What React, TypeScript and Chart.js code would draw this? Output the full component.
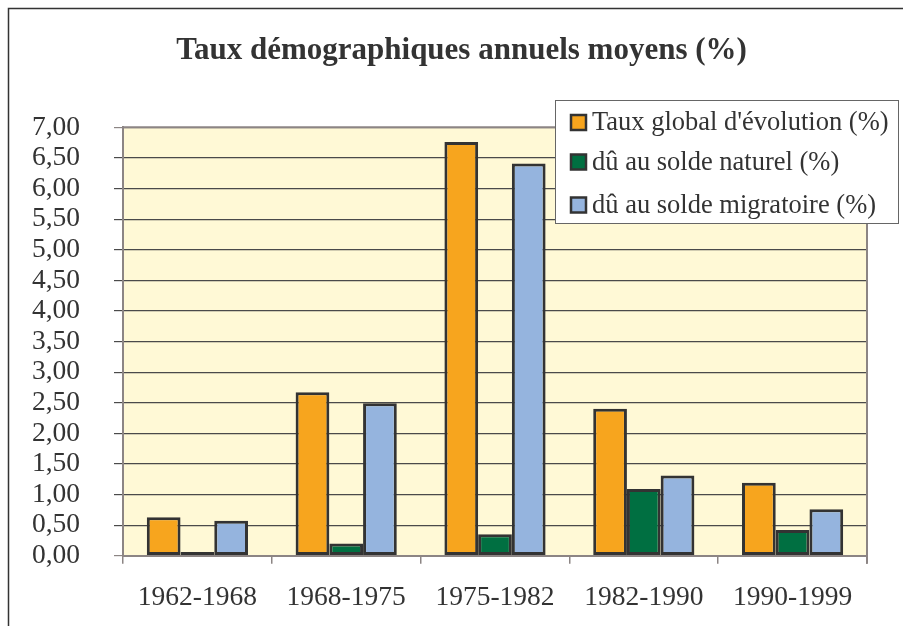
import React, { useEffect, useRef } from 'react';
import { Chart, registerables } from 'chart.js';

Chart.register(...registerables);

const categories = ['1962-1968', '1968-1975', '1975-1982', '1982-1990', '1990-1999'];
const tauxGlobal = [0.63, 2.67, 6.76, 2.40, 1.19];
const soldeNaturel = [0.06, 0.20, 0.35, 1.09, 0.42];
const soldeMigratoire = [0.57, 2.49, 6.41, 1.31, 0.76];
const seriesLabels = ["Taux global d'évolution (%)", 'dû au solde naturel (%)', 'dû au solde migratoire (%)'];
const seriesColors = ['#F7A51E', '#006F41', '#95B4DE'];
const titleText = 'Taux démographiques annuels moyens (%)';
const yMin = 0;
const yMax = 7;
const yStep = 0.5;

const FONT = '"Liberation Serif", "Times New Roman", serif';

const framePlugin = {
  id: 'framePlugin',
  beforeDraw(chart: any) {
    const { ctx, chartArea } = chart;
    ctx.save();
    ctx.fillStyle = '#ffffff';
    ctx.fillRect(0, 0, chart.width, chart.height);
    ctx.strokeStyle = '#333333';
    ctx.lineWidth = 1.5;
    ctx.beginPath();
    ctx.moveTo(8.5, chart.height + 5);
    ctx.lineTo(8.5, 8.5);
    ctx.lineTo(chart.width + 5, 8.5);
    ctx.stroke();
    ctx.fillStyle = '#FFF9D6';
    ctx.fillRect(chartArea.left, chartArea.top, chartArea.right - chartArea.left, chartArea.bottom - chartArea.top);
    ctx.restore();
  },
  afterDatasetsDraw(chart: any) {
    const { ctx, chartArea } = chart;
    ctx.save();
    ctx.strokeStyle = '#8C8584';
    ctx.lineWidth = 2;
    ctx.beginPath();
    ctx.moveTo(chartArea.right, chartArea.top);
    ctx.lineTo(chartArea.right, chartArea.bottom + 8);
    ctx.stroke();
    ctx.beginPath();
    ctx.moveTo(chartArea.left, chartArea.top);
    ctx.lineTo(chartArea.right, chartArea.top);
    ctx.stroke();
    ctx.restore();
  },
  afterDraw(chart: any) {
    const { ctx } = chart;
    ctx.save();
    // title
    ctx.font = 'bold 31px ' + FONT;
    ctx.fillStyle = '#333333';
    ctx.textAlign = 'center';
    ctx.textBaseline = 'middle';
    ctx.fillText(titleText, 461.5, 51);
    // legend
    const x0 = 555.5, y0 = 100.5, w = 343, h = 123;
    ctx.fillStyle = '#ffffff';
    ctx.fillRect(x0, y0, w, h);
    ctx.strokeStyle = '#666666';
    ctx.lineWidth = 1;
    ctx.strokeRect(x0, y0, w, h);
    const centers = [122.5, 162, 205];
    ctx.font = '26.5px ' + FONT;
    ctx.textBaseline = 'middle';
    ctx.textAlign = 'left';
    chart.data.datasets.forEach((ds: any, i: number) => {
      const cy = centers[i];
      ctx.fillStyle = ds.backgroundColor;
      ctx.fillRect(571, cy - 7.5, 15, 15);
      ctx.strokeStyle = '#333333';
      ctx.lineWidth = 2.5;
      ctx.strokeRect(571, cy - 7.5, 15, 15);
      ctx.fillStyle = '#333333';
      ctx.fillText(ds.label, 592, cy + 1);
    });
    ctx.restore();
  },
};

export default function App() {
  const ref = useRef<HTMLCanvasElement>(null);
  useEffect(() => {
    if (!ref.current) return;
    const chart = new Chart(ref.current, {
      type: 'bar',
      data: {
        labels: categories,
        datasets: [tauxGlobal, soldeNaturel, soldeMigratoire].map((d, i) => ({
          label: seriesLabels[i],
          data: d,
          backgroundColor: seriesColors[i],
          borderColor: '#333333',
          borderWidth: 3,
          borderSkipped: false,
          categoryPercentage: 0.68,
          barPercentage: 1,
        })),
      },
      options: {
        responsive: false,
        animation: false,
        devicePixelRatio: 1,
        layout: { padding: { top: 127.3, left: 0, right: 36, bottom: 0 } },
        plugins: {
          legend: { display: false },
          tooltip: { enabled: false },
          title: { display: false },
        },
        scales: {
          x: {
            offset: true,
            grid: {
              offset: true,
              drawOnChartArea: false,
              drawTicks: true,
              tickLength: 8,
              color: '#8C8584',
              lineWidth: 1.5,
            },
            border: { display: true, color: '#8C8584', width: 2 },
            ticks: {
              color: '#333333',
              font: { family: FONT, size: 27.5, lineHeight: 1.2 },
              padding: 18,
              maxRotation: 0,
              autoSkip: false,
            },
            afterFit: (s: any) => { s.height = 626 - 555.7; },
          },
          y: {
            min: yMin,
            max: yMax,
            grid: {
              color: (c: any) => (c.tick && (c.tick.value === yMin || c.tick.value === yMax) ? '#8C8584' : '#4a4a4a'),
              lineWidth: 1.2,
              tickLength: 9,
              drawTicks: true,
            },
            border: { display: true, color: '#8C8584', width: 2 },
            ticks: {
              stepSize: yStep,
              autoSkip: false,
              color: '#333333',
              font: { family: FONT, size: 27.5, lineHeight: 1.2 },
              padding: 34,
              callback: (v: any) => Number(v).toFixed(2).replace('.', ','),
            },
            afterFit: (s: any) => { s.width = 123; },
          },
        },
      } as any,
      plugins: [framePlugin],
    });
    return () => chart.destroy();
  }, []);
  return (
    <div style={{ position: 'fixed', left: 0, top: 0, width: 903, height: 626 }}>
      <canvas ref={ref} width={903} height={626} />
    </div>
  );
}
